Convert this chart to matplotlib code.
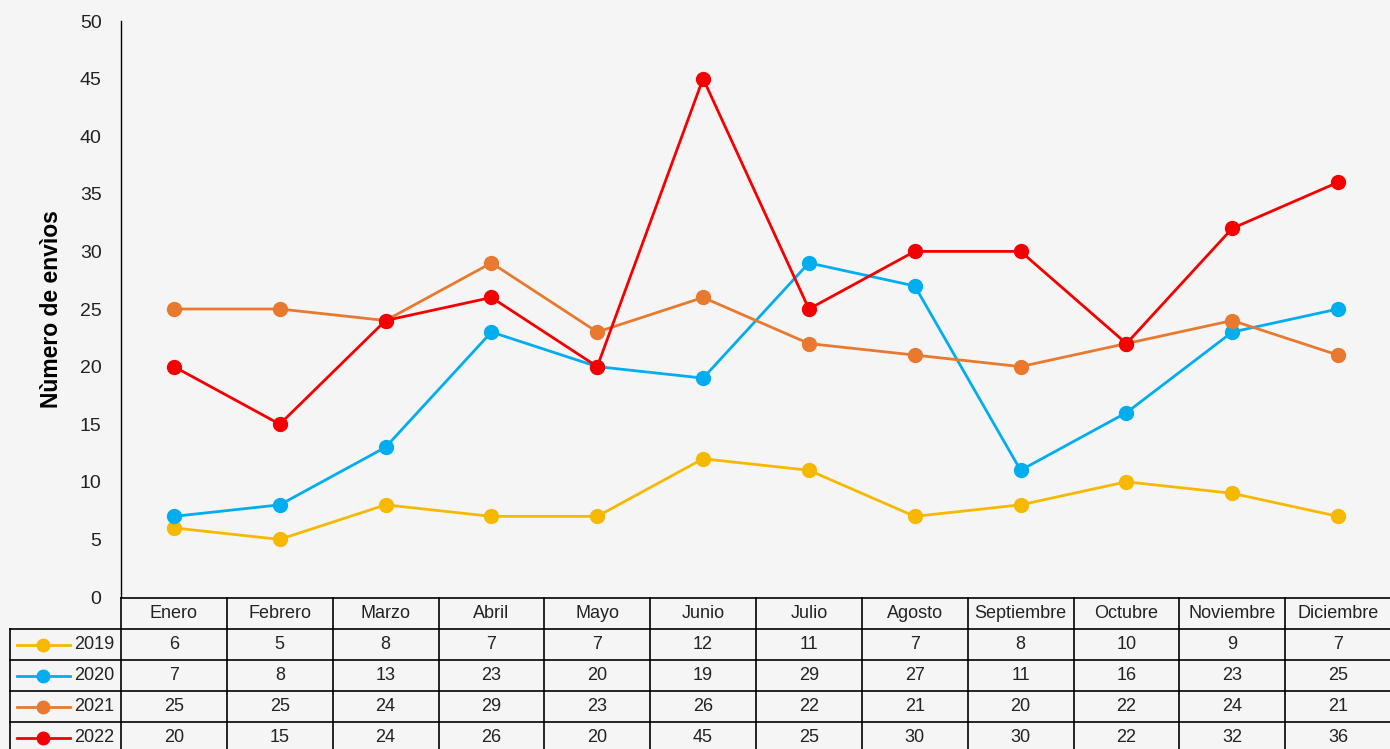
import matplotlib.pyplot as plt
import numpy as np

plt.rcParams['font.family'] = ['Liberation Sans', 'DejaVu Sans']

# data
meses = ['Enero', 'Febrero', 'Marzo', 'Abril', 'Mayo', 'Junio', 'Julio',
         'Agosto', 'Septiembre', 'Octubre', 'Noviembre', 'Diciembre']
anios = ['2019', '2020', '2021', '2022']
v2019 = [6, 5, 8, 7, 7, 12, 11, 7, 8, 10, 9, 7]
v2020 = [7, 8, 13, 23, 20, 19, 29, 27, 11, 16, 23, 25]
v2021 = [25, 25, 24, 29, 23, 26, 22, 21, 20, 22, 24, 21]
v2022 = [20, 15, 24, 26, 20, 45, 25, 30, 30, 22, 32, 36]
series = [v2019, v2020, v2021, v2022]
colores = ['#F7B900', '#00AEEF', '#E8792F', '#F50000']

W, H = 1390, 749
fig = plt.figure(figsize=(W/100, H/100), dpi=100)
fig.patch.set_facecolor('#f5f5f5')

# main plot area (pixel positions from the reference)
x0, x1 = 121, 1391
ytop, ybot = 21, 597
ax = fig.add_axes([x0/W, 1-ybot/H, (x1-x0)/W, (ybot-ytop)/H])
ax.set_facecolor('none')
x = np.arange(len(meses))
for vals, c in zip(series, colores):
    ax.plot(x, vals, color=c, lw=2, marker='o', ms=10, zorder=3)
ax.set_xlim(-0.5, len(meses)-0.5)
ax.set_ylim(0, 50)
ax.set_yticks(range(0, 51, 5))
ax.set_xticks([])
ax.tick_params(axis='y', length=0, pad=14, labelsize=14, labelcolor='#222222')
for s in ['top', 'right', 'bottom']:
    ax.spines[s].set_visible(False)
ax.spines['left'].set_linewidth(1)
ax.set_ylabel('Nùmero de envìos', fontsize=16.5, fontweight='bold', labelpad=12)

# data table below
tx0 = 10
cw = (x1 - x0) / len(meses)
rh = 31
tab = fig.add_axes([0, 0, 1, 1])
tab.set_xlim(0, W)
tab.set_ylim(H, 0)
tab.axis('off')
tab.patch.set_alpha(0)
ys = [598 + i*rh for i in range(6)]
lk = dict(color='black', lw=1.2)
# header row
tab.plot([x0, x1], [ys[0], ys[0]], **lk)
for i in range(1, 6):
    tab.plot([tx0, x1], [ys[i], ys[i]], **lk)
tab.plot([tx0, tx0], [ys[1], H], **lk)
for j in range(len(meses)+1):
    xc = x0 + j*cw
    tab.plot([xc, xc], [ys[0], H], **lk)
for j, m in enumerate(meses):
    tab.text(x0 + (j+0.5)*cw, ys[0]+rh/2, m, ha='center', va='center',
             fontsize=13, color='#222222')
for i, (a, vals, c) in enumerate(zip(anios, series, colores)):
    yc = ys[i+1] + rh/2
    tab.plot([17, 70], [yc, yc], color=c, lw=2)
    tab.plot([43], [yc], 'o', color=c, ms=9)
    tab.text(114, yc, a, ha='right', va='center', fontsize=13, color='#222222')
    for j, v in enumerate(vals):
        tab.text(x0 + (j+0.5)*cw, yc, str(v), ha='center', va='center',
                 fontsize=13, color='#222222')

fig.savefig('out.png', dpi=100, facecolor=fig.get_facecolor())
